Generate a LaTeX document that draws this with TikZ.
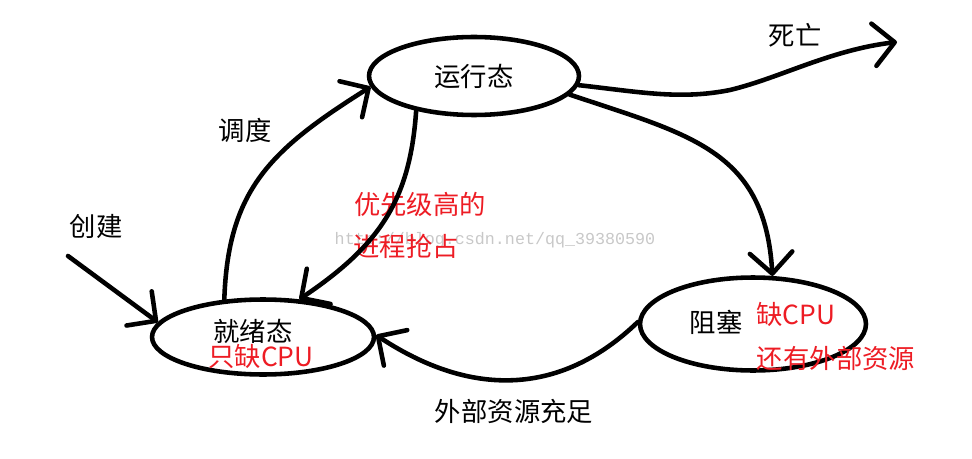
\documentclass[tikz,border=0pt]{standalone}
\usepackage{fontspec}
\setmainfont{Noto Sans CJK SC}
\setmonofont{Liberation Mono}
\usetikzlibrary{shapes.geometric,arrows.meta}
\definecolor{paintred}{RGB}{237,28,36}
\definecolor{markgray}{RGB}{200,200,200}

\begin{document}
\begin{tikzpicture}[x=0.02cm,y=-0.02cm,font=\fontsize{15}{18}\selectfont,
  state/.style={draw,ellipse,line width=2.6pt,inner sep=0pt},
  flow/.style={line width=2.6pt,line cap=round,-{Straight Barb[length=4.2mm,width=8.5mm,round]}},
  note/.style={text=paintred}]
\useasboundingbox (0,0) rectangle (972,459);
\node[text=markgray,font=\ttfamily\fontsize{9.5}{11}\selectfont] (mark) at (495,240) {http://blog.csdn.net/qq\_39380590};
\node[state,minimum width=4.2cm,minimum height=1.56cm] (run) at (474,76) {};
\node[state,minimum width=4.44cm,minimum height=1.5cm] (ready) at (263,337) {};
\node[state,minimum width=4.52cm,minimum height=1.86cm] (block) at (753,324) {};
\node (runtxt) at (474,76) {运行态};
\node (readytxt) at (253,331) {就绪态};
\node[note] (readynote) at (261,356) {只缺CPU};
\node (blocktxt) at (716,322) {阻塞};
\node[note] (blocknote1) at (796,314) {缺CPU};
\node[note] (blocknote2) at (836,358) {还有外部资源};
\node (dietxt) at (795,35) {死亡};
\node (schedtxt) at (245,130) {调度};
\node (newtxt) at (96,226) {创建};
\node[note] (preempt1) at (420,204) {优先级高的};
\node[note] (preempt2) at (406,246) {进程抢占};
\node (readytext) at (514,411) {外部资源充足};
\coordinate (newin) at (68,256);
\coordinate (dead) at (897,42);
\draw[flow] (newin) -- (ready.172);
\draw[flow] (ready.136) .. controls (228,190) and (270,150) .. (run.186);
\draw[flow] (run.211) .. controls (410,200) and (380,245) .. (ready.46);
\draw[flow] (run.349) .. controls (690,135) and (765,150) .. (block.68);
\draw[flow] (run.355) .. controls (640,92) and (680,100) .. (730,90) .. controls (780,78) and (830,50) .. (dead);
\draw[flow] (block.179) .. controls (560,397) and (470,397) .. (ready.1);
\end{tikzpicture}
\end{document}
